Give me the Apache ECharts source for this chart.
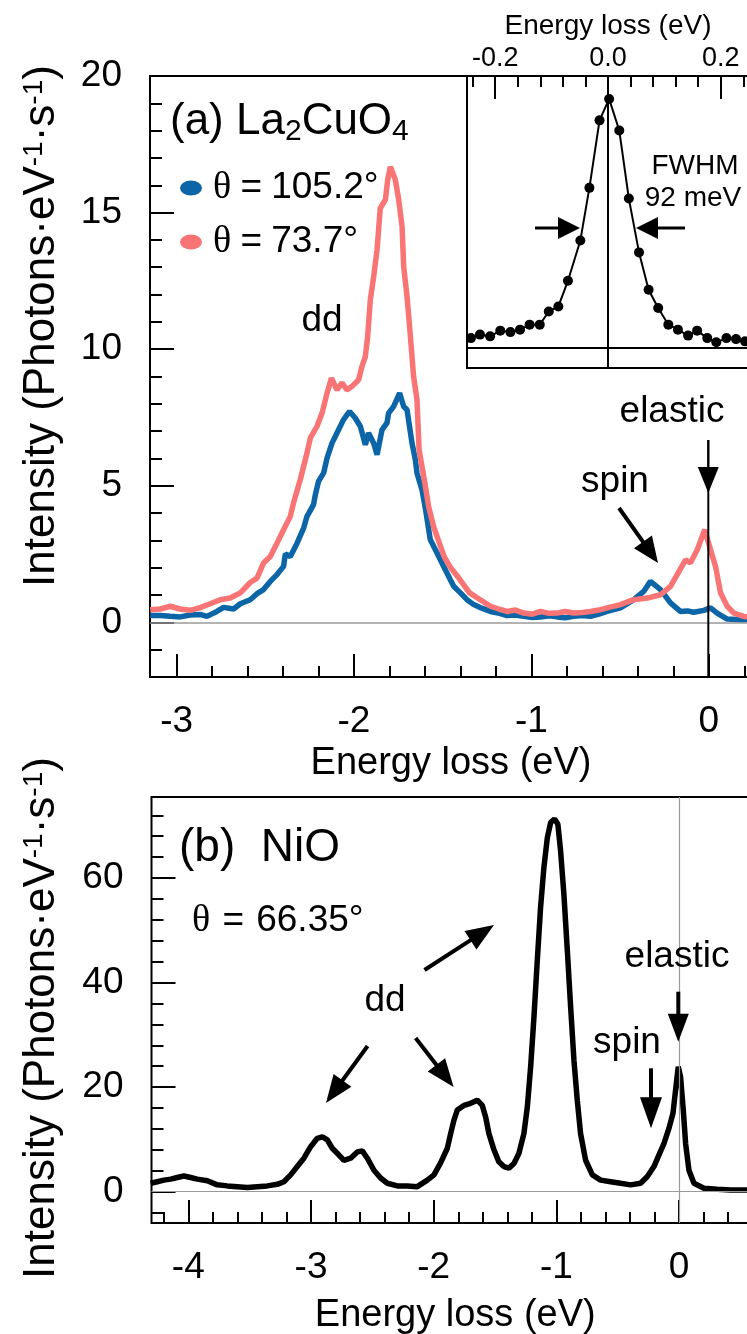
<!DOCTYPE html>
<html><head><meta charset="utf-8">
<script src="https://cdn.jsdelivr.net/npm/echarts@6/dist/echarts.min.js"></script>
<style>html,body{margin:0;padding:0;background:#fff}#c{width:747px;height:1334px}</style>
</head><body><div id="c"></div>
<script>
// ---------- DATA ----------
// Panel (a) La2CuO4, theta = 105.2 deg (blue)
const laBlueE = [-3.149,-3.092,-3.036,-2.980,-2.923,-2.867,-2.829,-2.773,-2.735,-2.679,-2.641,-2.585,-2.547,-2.510,-2.472,-2.434,-2.397,-2.387,-2.359,-2.321,-2.284,-2.265,-2.228,-2.218,-2.200,-2.171,-2.152,-2.124,-2.096,-2.059,-2.025,-1.993,-1.964,-1.936,-1.918,-1.889,-1.870,-1.842,-1.814,-1.805,-1.777,-1.743,-1.720,-1.701,-1.673,-1.654,-1.645,-1.617,-1.598,-1.570,-1.532,-1.495,-1.457,-1.438,-1.400,-1.363,-1.325,-1.280,-1.231,-1.180,-1.137,-1.090,-1.043,-0.995,-0.949,-0.900,-0.855,-0.810,-0.761,-0.715,-0.667,-0.620,-0.573,-0.498,-0.423,-0.367,-0.329,-0.272,-0.216,-0.160,-0.120,-0.085,-0.028,0.010,0.047,0.104,0.179,0.220];
const laBlueI = [0.25,0.25,0.22,0.20,0.27,0.29,0.22,0.40,0.55,0.49,0.68,0.83,1.05,1.20,1.50,1.75,2.05,2.51,2.41,2.90,3.45,3.88,4.31,4.67,5.16,5.47,6.01,6.56,6.93,7.42,7.72,7.48,7.17,6.50,6.93,6.56,6.14,7.05,7.30,7.66,7.90,8.39,7.90,7.78,6.56,5.95,5.47,4.86,4.19,3.03,2.54,2.05,1.56,1.32,1.08,0.83,0.65,0.52,0.40,0.33,0.25,0.27,0.22,0.18,0.20,0.24,0.20,0.17,0.22,0.25,0.22,0.30,0.40,0.53,0.83,1.13,1.50,1.20,0.71,0.40,0.42,0.37,0.44,0.53,0.34,0.12,0.10,0.10];
// Panel (a) La2CuO4, theta = 73.7 deg (red)
const laRedE = [-3.149,-3.092,-3.036,-2.980,-2.923,-2.867,-2.811,-2.754,-2.698,-2.641,-2.585,-2.547,-2.510,-2.472,-2.434,-2.397,-2.359,-2.341,-2.303,-2.265,-2.246,-2.209,-2.180,-2.152,-2.127,-2.096,-2.068,-2.040,-2.011,-1.974,-1.955,-1.936,-1.923,-1.908,-1.889,-1.870,-1.852,-1.823,-1.810,-1.795,-1.767,-1.748,-1.729,-1.720,-1.701,-1.682,-1.664,-1.645,-1.633,-1.601,-1.579,-1.551,-1.525,-1.491,-1.459,-1.415,-1.350,-1.306,-1.231,-1.180,-1.137,-1.090,-1.043,-0.995,-0.949,-0.900,-0.855,-0.810,-0.761,-0.715,-0.667,-0.620,-0.573,-0.498,-0.423,-0.347,-0.272,-0.216,-0.178,-0.131,-0.103,-0.065,-0.023,0.010,0.038,0.066,0.104,0.141,0.197,0.220];
const laRedI = [0.46,0.49,0.59,0.49,0.44,0.54,0.68,0.83,0.89,1.08,1.46,1.62,2.17,2.41,2.90,3.39,3.88,4.37,5.22,6.20,6.75,7.17,7.66,8.39,8.94,8.51,8.77,8.51,8.64,8.88,9.37,9.73,10.46,11.81,12.66,13.64,15.16,15.47,16.20,16.68,16.20,15.47,14.49,13.03,11.93,10.46,9.00,8.15,6.32,5.11,4.23,3.50,3.02,2.40,2.04,1.67,1.09,0.90,0.59,0.48,0.40,0.45,0.34,0.30,0.40,0.33,0.34,0.40,0.34,0.36,0.40,0.45,0.53,0.65,0.83,0.89,1.01,1.32,1.75,2.29,2.18,2.66,3.39,2.66,2.05,1.08,0.59,0.34,0.22,0.20];
// Panel (b) NiO, theta = 66.35 deg
const nioE = [-4.307,-4.253,-4.199,-4.144,-4.090,-4.036,-3.981,-3.927,-3.845,-3.764,-3.682,-3.601,-3.519,-3.438,-3.356,-3.275,-3.221,-3.166,-3.112,-3.058,-3.003,-2.949,-2.908,-2.867,-2.827,-2.772,-2.732,-2.677,-2.623,-2.582,-2.541,-2.487,-2.433,-2.378,-2.297,-2.215,-2.134,-2.052,-1.998,-1.944,-1.889,-1.862,-1.835,-1.808,-1.754,-1.699,-1.645,-1.604,-1.577,-1.550,-1.509,-1.469,-1.428,-1.387,-1.346,-1.306,-1.265,-1.237,-1.210,-1.183,-1.156,-1.129,-1.102,-1.074,-1.047,-1.015,-0.988,-0.966,-0.939,-0.911,-0.884,-0.857,-0.830,-0.803,-0.762,-0.707,-0.640,-0.558,-0.477,-0.395,-0.314,-0.259,-0.205,-0.165,-0.124,-0.083,-0.050,-0.029,-0.007,0.012,0.034,0.053,0.080,0.121,0.202,0.311,0.420,0.528,0.600];
const nioI = [1.6,1.9,2.2,2.4,2.7,3.0,2.7,2.4,2.1,1.3,1.1,0.95,0.8,0.95,1.1,1.4,1.9,3.2,4.8,6.4,8.6,10.2,10.5,9.9,8.3,7.0,6.0,6.4,7.6,7.8,6.4,4.1,2.6,1.6,1.1,1.1,0.95,2.2,3.2,5.5,8.3,11.1,13.7,15.6,16.5,16.9,17.5,16.5,14.3,11.1,8.0,5.7,4.8,4.5,5.4,7.3,11.1,16.2,23.9,33.4,44.2,54.4,62.0,67.7,70.6,71.3,70.3,65.2,56.9,46.1,35.3,25.1,17.5,11.1,6.0,3.2,2.2,1.9,1.6,1.3,1.6,2.9,4.8,7.0,9.2,12.1,15.0,19.4,23.9,21.9,15.6,9.2,4.1,1.6,0.65,0.45,0.3,0.3,0.3];
// Inset: elastic line (normalised)
const insetE = [-0.243,-0.227,-0.209,-0.191,-0.173,-0.156,-0.139,-0.121,-0.105,-0.088,-0.071,-0.049,-0.033,-0.015,0.002,0.020,0.037,0.055,0.072,0.089,0.107,0.124,0.142,0.158,0.176,0.192,0.210,0.227,0.243];
const insetI = [0.040,0.054,0.047,0.070,0.064,0.074,0.094,0.094,0.147,0.167,0.270,0.432,0.643,0.914,1.000,0.873,0.600,0.384,0.234,0.161,0.094,0.074,0.050,0.070,0.040,0.023,0.040,0.036,0.027];
// Tick labels
const ticksAX = [-3,-2,-1,0];
const ticksAY = [0,5,10,15,20];
const ticksBX = [-4,-3,-2,-1,0];
const ticksBY = [0,20,40,60];
const ticksInsetX = [-0.2,0.0,0.2];
const seriesNames = ['θ = 105.2°','θ = 73.7°'];

// ---------- helpers ----------
const F = 'Liberation Sans, Arial, sans-serif';
const zip = (a,b) => a.map((v,i)=>[v,b[i]]);
function minorVals(lo, hi, step, majorEvery){
  const out=[]; const n0=Math.ceil(lo/step-1e-9), n1=Math.floor(hi/step+1e-9);
  for(let i=n0;i<=n1;i++){ if(i%majorEvery!==0) out.push(+(i*step).toFixed(4)); }
  return out;
}
const tickLine = {color:'#000', width:2};
function axis(o){
  return Object.assign({type:'value', axisLine:{show:false,onZero:false}, splitLine:{show:false}, axisLabel:{show:false}, axisTick:{show:false}}, o);
}
function arrow(x1,y1,x2,y2,hl,hw,lw){
  const dx=x2-x1, dy=y2-y1, L=Math.hypot(dx,dy), ux=dx/L, uy=dy/L;
  const bx=x2-ux*hl, by=y2-uy*hl, px=-uy, py=ux;
  return [
    {type:'line', shape:{x1:x1,y1:y1,x2:bx+ux*2,y2:by+uy*2}, style:{stroke:'#000', lineWidth:lw}, z:50},
    {type:'polygon', shape:{points:[[x2,y2],[bx+px*hw/2,by+py*hw/2],[bx-px*hw/2,by-py*hw/2]]}, style:{fill:'#000'}, z:50}
  ];
}
function txt(text,x,y,size,extra){
  return {type:'text', x:x, y:y, z:50, style:Object.assign({text:text, font:size+'px '+F, fill:'#000', align:'center', verticalAlign:'middle'}, extra||{})};
}
const legendRich = {
  t:{fontSize:38, fontFamily:'Liberation Serif', color:'#000'},
  e:{fontSize:37, fontFamily:F, color:'#000', width:40, align:'center'}
};
const thetaRichB = {
  t:{fontSize:38, fontFamily:'Liberation Serif', fill:'#000'},
  e:{fontSize:37, fontFamily:F, fill:'#000', width:46, align:'center'}
};
const supRich = {s:{fontSize:28, fontFamily:F, fill:'#000', padding:[0,0,16,0]}};

const chart = echarts.init(document.getElementById('c'), null, {renderer:'canvas'});
const yTitle = (y) => Object.assign(txt('Intensity (Photons·eV{s|-1}·s{s|-1})', 42, y, 44, {rich:supRich}), {rotation:Math.PI/2});
const option = {
  animation:false,
  backgroundColor:'#fff',
  grid:[
    {left:150, top:76, width:612, height:601, show:true, borderColor:'#000', borderWidth:2, backgroundColor:'transparent', outerBoundsMode:'none'},
    {left:151.5, top:797, width:613.5, height:426, show:true, borderColor:'#000', borderWidth:2, backgroundColor:'transparent', outerBoundsMode:'none'},
    {left:467, top:76, width:282, height:292, show:true, borderColor:'#000', borderWidth:2, backgroundColor:'#fff', outerBoundsMode:'none'}
  ],
  xAxis:[
    axis({gridIndex:0, position:'bottom', min:-3.15, max:0.3,
      axisTick:{show:true, inside:true, length:23, customValues:ticksAX, lineStyle:tickLine},
      axisLabel:{show:true, customValues:ticksAX, margin:26, fontSize:37, fontFamily:F, color:'#000'},
      name:'Energy loss (eV)', nameLocation:'middle', nameGap:68, nameTextStyle:{fontSize:38, fontFamily:F, color:'#000', padding:[0,10,0,0]}}),
    axis({gridIndex:0, position:'bottom', min:-3.15, max:0.3,
      axisTick:{show:true, inside:true, length:11, customValues:minorVals(-3.15,0.3,0.2,5), lineStyle:tickLine}}),
    axis({gridIndex:1, position:'bottom', min:-4.3, max:0.7,
      axisTick:{show:true, inside:true, length:23, customValues:ticksBX, lineStyle:tickLine},
      axisLabel:{show:true, customValues:ticksBX, margin:26, fontSize:37, fontFamily:F, color:'#000'},
      name:'Energy loss (eV)', nameLocation:'middle', nameGap:74, nameTextStyle:{fontSize:38, fontFamily:F, color:'#000', padding:[0,6,0,0]}}),
    axis({gridIndex:1, position:'bottom', min:-4.3, max:0.7,
      axisTick:{show:true, inside:true, length:11, customValues:minorVals(-4.3,0.7,0.2,5), lineStyle:tickLine}}),
    axis({gridIndex:2, position:'top', min:-0.25, max:0.25,
      axisTick:{show:true, inside:true, length:23, customValues:ticksInsetX, lineStyle:tickLine},
      axisLabel:{show:true, customValues:ticksInsetX, margin:4, fontSize:27, fontFamily:F, color:'#000', formatter:v=>Number(v).toFixed(1)},
      name:'Energy loss (eV)', nameLocation:'middle', nameGap:36, nameTextStyle:{fontSize:28, fontFamily:F, color:'#000'}}),
    axis({gridIndex:2, position:'top', min:-0.25, max:0.25,
      axisTick:{show:true, inside:true, length:11, customValues:minorVals(-0.25,0.25,0.04,5), lineStyle:tickLine}})
  ],
  yAxis:[
    axis({gridIndex:0, position:'left', min:-2, max:20,
      axisTick:{show:true, inside:true, length:24, customValues:ticksAY, lineStyle:tickLine},
      axisLabel:{show:true, customValues:ticksAY, margin:28, fontSize:37, fontFamily:F, color:'#000'}}),
    axis({gridIndex:0, position:'left', min:-2, max:20,
      axisTick:{show:true, inside:true, length:12, customValues:minorVals(-2,20,1,5), lineStyle:tickLine}}),
    axis({gridIndex:1, position:'left', min:-6, max:75.5,
      axisTick:{show:true, inside:true, length:24, customValues:ticksBY, lineStyle:tickLine},
      axisLabel:{show:true, customValues:ticksBY, margin:28, fontSize:37, fontFamily:F, color:'#000'}}),
    axis({gridIndex:1, position:'left', min:-6, max:75.5,
      axisTick:{show:true, inside:true, length:12, customValues:minorVals(-6,75.5,4,5), lineStyle:tickLine}}),
    axis({gridIndex:2, position:'left', min:-0.08, max:1.092})
  ],
  legend:{
    data:seriesNames, orient:'vertical', left:175, top:163, itemGap:14, itemWidth:22, itemHeight:15,
    icon:'path://M0,7.5A11,7.5 0 1,0 22,7.5A11,7.5 0 1,0 0,7.5Z', selectedMode:false,
    formatter:n=>n.replace('θ = ','{t|θ}{e|=}'),
    textStyle:{fontSize:37, fontFamily:F, color:'#000', lineHeight:40, padding:[0,0,0,6], rich:legendRich}
  },
  series:[
    {type:'line', name:seriesNames[0], xAxisIndex:0, yAxisIndex:0, data:zip(laBlueE,laBlueI), showSymbol:false, symbol:'none',
      color:'#0B65A6', lineStyle:{color:'#0B65A6', width:5.5}, z:3,
      markLine:{silent:true, symbol:'none', label:{show:false}, lineStyle:{color:'#9a9a9a', width:1.5, type:'solid'}, data:[{yAxis:0}]}},
    {type:'line', name:seriesNames[1], xAxisIndex:0, yAxisIndex:0, data:zip(laRedE,laRedI), showSymbol:false, symbol:'none',
      color:'#F97474', lineStyle:{color:'#F97474', width:5.5}, z:4},
    {type:'line', name:'NiO', xAxisIndex:2, yAxisIndex:2, data:zip(nioE,nioI), showSymbol:false, symbol:'none',
      color:'#000', lineStyle:{color:'#000', width:5.5}, z:4,
      markLine:{silent:true, symbol:'none', label:{show:false}, lineStyle:{color:'#9a9a9a', width:1.2, type:'solid'}, data:[{yAxis:0},{xAxis:0}]}},
    {type:'line', name:'inset', xAxisIndex:4, yAxisIndex:4, data:zip(insetE,insetI), symbol:'circle', symbolSize:10, showSymbol:true,
      color:'#000', itemStyle:{color:'#000'}, lineStyle:{color:'#000', width:2}, z:4,
      markLine:{silent:true, symbol:'none', label:{show:false}, lineStyle:{color:'#000', width:2, type:'solid'}, data:[{yAxis:0},{xAxis:0}]}}
  ],
  graphic:[].concat(
    [
      txt('(a) La{b|2}CuO{b|4}', 170, 122, 44, {align:'left', rich:{b:{fontSize:30, fontFamily:F, fill:'#000', padding:[20,0,0,0]}}}),
      txt('(b)  NiO', 179, 848, 46, {align:'left'}),
      txt('{t|θ}{e|=}66.35°', 192, 921, 37, {align:'left', rich:thetaRichB}),
      txt('dd', 322, 321, 37), txt('elastic', 672, 412, 37), txt('spin', 615, 482, 37),
      txt('dd', 385, 1001, 37), txt('elastic', 677, 957, 37), txt('spin', 627, 1043, 37),
      txt('FWHM', 695, 166, 28), txt('92 meV', 693, 198, 28),
      yTitle(326), yTitle(1018),
      {type:'line', shape:{x1:708.3,y1:440,x2:708.3,y2:677}, style:{stroke:'#000', lineWidth:2}, z:50}
    ],
    arrow(708.3,440,708.3,493,26,21,2),
    arrow(619,508,658,563,26,22,4),
    arrow(678.3,991.7,678.3,1041.7,28,21,4),
    arrow(651,1068.3,651,1128.3,31,22,4),
    arrow(424.5,970,494,925,28,22,4),
    arrow(367.6,1046,326,1103,28,22,4),
    arrow(415.6,1038,453.6,1087,28,22,4),
    arrow(535,228,580,228,22,22,3),
    arrow(685,228,636,228,22,22,3)
  )
};
chart.setOption(option);
</script></body></html>
